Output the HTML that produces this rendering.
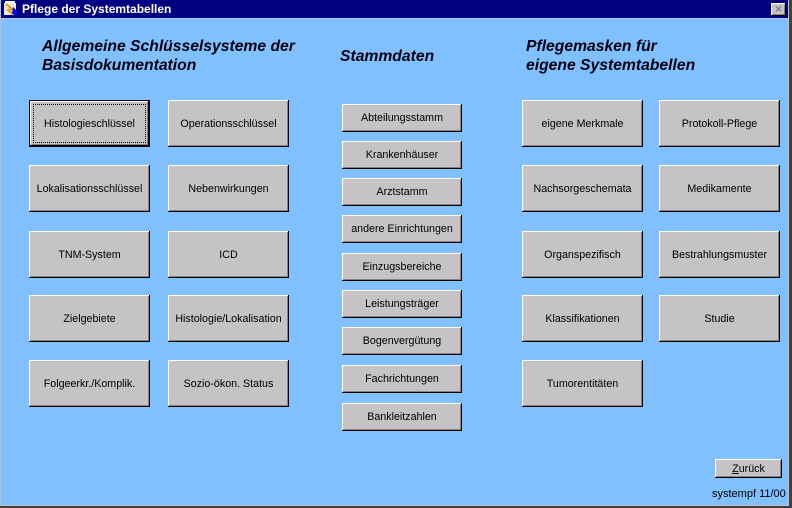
<!DOCTYPE html>
<html><head><meta charset="utf-8"><style>
*{margin:0;padding:0;box-sizing:border-box}
html,body{width:792px;height:508px;overflow:hidden;background:#80c0ff}
body{position:relative;font-family:"Liberation Sans",Arial,sans-serif;color:#000}
#title{position:absolute;left:0;top:0;width:788px;height:18px;background:#000080}
#tline{position:absolute;left:0;top:18px;width:788px;height:1px;background:#c0c0e0}
#ttext{position:absolute;left:22px;top:2px;font-size:12px;font-weight:bold;color:#fff;line-height:14px;white-space:nowrap}
#icon{position:absolute;left:3px;top:1px;width:16px;height:16px}
#close{position:absolute;left:771px;top:3px;width:15px;height:13px;background:#c6c3c6;box-shadow:inset -1px -1px 0 #000,inset 1px 1px 0 #fff,inset -2px -2px 0 #848284;color:#848284;font-size:12px;font-weight:bold;line-height:13px;text-align:center}
#rb1{position:absolute;left:788px;top:0;width:1px;height:508px;background:#c0c0c0}
#rb2{position:absolute;left:789px;top:0;width:3px;height:508px;background:#404040}
#bb1{position:absolute;left:0;top:505px;width:789px;height:1px;background:#c0c0c0}
#bb2{position:absolute;left:0;top:506px;width:792px;height:2px;background:#404040}
#lb{position:absolute;left:0;top:0;width:1px;height:506px;background:#c0c0c0}
.h{position:absolute;font-size:15.7px;font-weight:bold;font-style:italic;line-height:19px;white-space:nowrap;color:#000010}
.b{position:absolute;background:#c6c3c6;box-shadow:inset -1px -1px 0 #000,inset 1px 1px 0 #fff,inset -2px -2px 0 #848284;font-size:10.7px;display:flex;align-items:center;justify-content:center;white-space:nowrap}
.big{width:121px;height:47px}
.sm{width:120px;height:28px}
.focus{border:1px solid #000;box-shadow:inset -1px -1px 0 #000,inset 1px 1px 0 #fff,inset -2px -2px 0 #848284}
.focus::after{content:"";position:absolute;left:3px;top:3px;right:3px;bottom:3px;border:1px dotted #000}
</style></head><body>
<div id="title"></div>
<div id="tline"></div>
<svg id="icon" viewBox="0 0 16 16"><rect x="0" y="0" width="16" height="16" fill="#000080"/><rect x="1" y="2" width="12" height="12" fill="#e8e8e8"/><path d="M3 3 L9 8 L5 9 L11 14" stroke="#e0a000" stroke-width="2" fill="none"/><path d="M10 6 L15 11 L12 15 L9 12Z" fill="#0000ff"/><rect x="2" y="0" width="10" height="2" fill="#fff"/></svg>
<div id="ttext">Pflege der Systemtabellen</div>
<div id="close">×</div>
<div id="lb"></div>
<div id="rb1"></div><div id="rb2"></div>
<div id="bb1"></div><div id="bb2"></div>

<div class="h" style="left:42px;top:37px">Allgemeine Schlüsselsysteme der<br>Basisdokumentation</div>
<div class="h" style="left:340px;top:47px">Stammdaten</div>
<div class="h" style="left:526px;top:37px">Pflegemasken für<br>eigene Systemtabellen</div>

<div class="b big focus" style="left:29px;top:100px">Histologieschlüssel</div>
<div class="b big" style="left:168px;top:100px">Operationsschlüssel</div>
<div class="b big" style="left:29px;top:165px">Lokalisationsschlüssel</div>
<div class="b big" style="left:168px;top:165px">Nebenwirkungen</div>
<div class="b big" style="left:29px;top:231px">TNM-System</div>
<div class="b big" style="left:168px;top:231px">ICD</div>
<div class="b big" style="left:29px;top:295px">Zielgebiete</div>
<div class="b big" style="left:168px;top:295px">Histologie/Lokalisation</div>
<div class="b big" style="left:29px;top:360px">Folgeerkr./Komplik.</div>
<div class="b big" style="left:168px;top:360px">Sozio-ökon. Status</div>

<div class="b sm" style="left:342px;top:104px">Abteilungsstamm</div>
<div class="b sm" style="left:342px;top:141px">Krankenhäuser</div>
<div class="b sm" style="left:342px;top:178px">Arztstamm</div>
<div class="b sm" style="left:342px;top:215px">andere Einrichtungen</div>
<div class="b sm" style="left:342px;top:253px">Einzugsbereiche</div>
<div class="b sm" style="left:342px;top:290px">Leistungsträger</div>
<div class="b sm" style="left:342px;top:327px">Bogenvergütung</div>
<div class="b sm" style="left:342px;top:365px">Fachrichtungen</div>
<div class="b sm" style="left:342px;top:403px">Bankleitzahlen</div>

<div class="b big" style="left:522px;top:100px">eigene Merkmale</div>
<div class="b big" style="left:659px;top:100px">Protokoll-Pflege</div>
<div class="b big" style="left:522px;top:165px">Nachsorgeschemata</div>
<div class="b big" style="left:659px;top:165px">Medikamente</div>
<div class="b big" style="left:522px;top:231px">Organspezifisch</div>
<div class="b big" style="left:659px;top:231px">Bestrahlungsmuster</div>
<div class="b big" style="left:522px;top:295px">Klassifikationen</div>
<div class="b big" style="left:659px;top:295px">Studie</div>
<div class="b big" style="left:522px;top:360px">Tumorentitäten</div>

<div class="b" style="left:715px;top:459px;width:67px;height:19px"><span><u>Z</u>urück</span></div>
<div style="position:absolute;left:712px;top:488px;font-size:11px;line-height:13px;white-space:nowrap">systempf 11/00</div>
</body></html>
